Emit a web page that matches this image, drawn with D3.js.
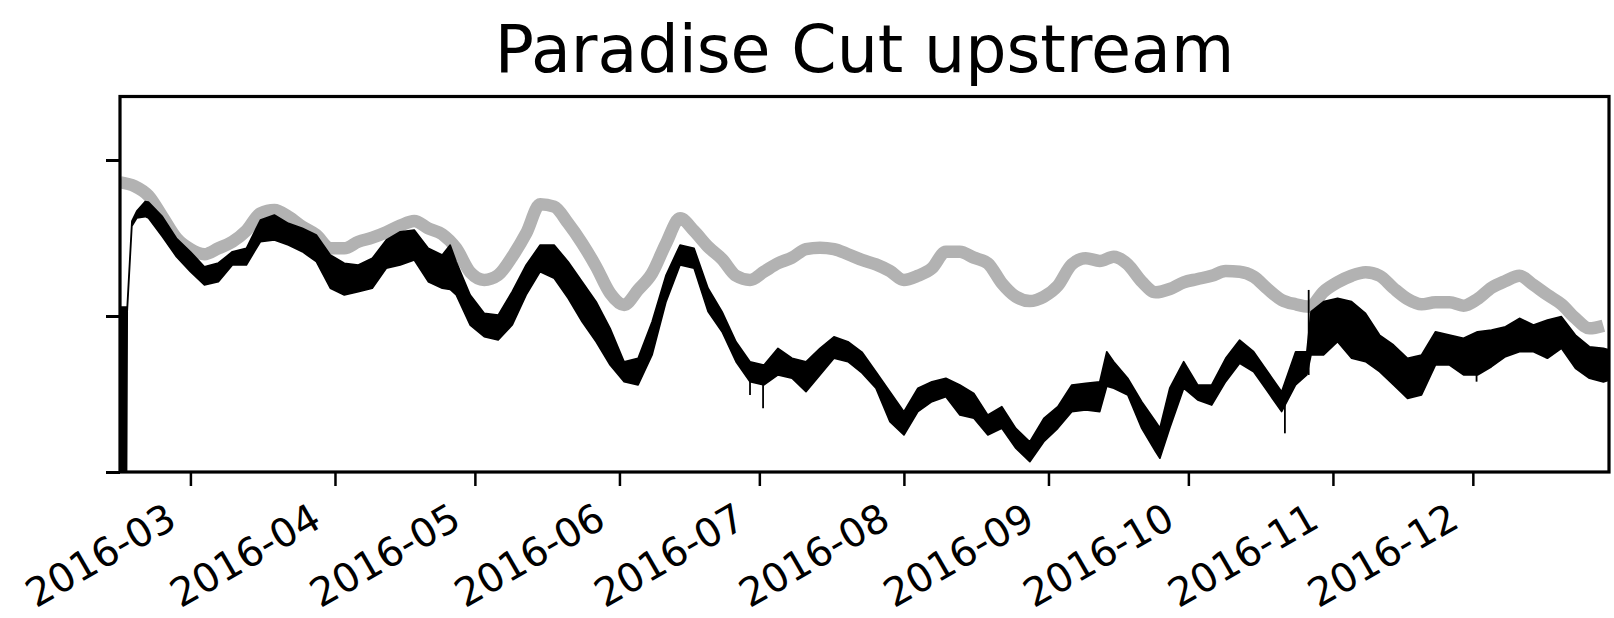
<!DOCTYPE html>
<html>
<head>
<meta charset="utf-8">
<script src="https://cdn.jsdelivr.net/npm/d3@7/dist/d3.min.js"></script>
<style>
  html, body { margin: 0; padding: 0; background: #ffffff; }
  svg { display: block; }
</style>
</head>
<body>
<div id="chart"></div>
<script>
// ---------------- DATA ----------------
const chartTitle = "Paradise Cut upstream";
const startDate = "2016-02-15";           // day 0 of the sample axis
const xDomainDays = [-0.1, 319.2];        // visible range, days from startDate
const yDomain = [0, 2.407];
const yTickValues = [0, 1, 2];            // ticks drawn without labels
const monthTicks = ["2016-03-01","2016-04-01","2016-05-01","2016-06-01","2016-07-01",
                    "2016-08-01","2016-09-01","2016-10-01","2016-11-01","2016-12-01"];

// grey (smooth) series, sampled every 3 days from startDate
const greyDays = d3.range(0, 319, 3);
const greyValues = [
 1.857,1.833,1.771,1.637,1.500,1.429,1.396,1.434,1.476,1.547,
 1.658,1.679,1.637,1.572,1.519,1.434,1.434,1.476,1.502,1.537,
 1.579,1.609,1.562,1.524,1.434,1.280,1.231,1.263,1.380,1.530,
 1.716,1.701,1.594,1.466,1.316,1.146,1.071,1.167,1.274,1.466,
 1.626,1.545,1.444,1.365,1.258,1.231,1.284,1.338,1.374,1.429,
 1.438,1.429,1.396,1.359,1.331,1.288,1.231,1.258,1.306,1.412,
 1.412,1.374,1.338,1.210,1.124,1.096,1.124,1.194,1.331,1.370,
 1.353,1.380,1.331,1.220,1.152,1.173,1.216,1.237,1.258,1.288,
 1.284,1.252,1.173,1.103,1.075,1.060,1.156,1.216,1.258,1.280,
 1.258,1.178,1.109,1.075,1.088,1.088,1.066,1.109,1.181,1.224,
 1.258,1.199,1.135,1.075,0.985,0.921,0.938
];

// black (noisy) series: envelope of the fluctuating record
const blackDays = [-0.1,1.3,1.45,2.45,3.5,5.3,6,9,12,15,18,21,24,27,30,33,36,39,42,45,48,51,54,57,60,63,66,69,70.7,72,
  75,78,81,84,87,90,93,96,99,102,105,108,111,114,117,120,123,126,129,132,135,138,141,144,147,150,153,156,159,162,
  165,168,171,174,177,180,183,186,189,192,195,198,201,204,207,210,211.5,213,216,219,222,222.9,225,228,231,234,237,240,243,246,
  249,252,254.4,255.3,258,261,264,267,270,273,276,279,282,285,288,291,294,297,300,303,306,309,312,315,318,319.3];
const blackHigh = [1.058,1.058,1.06,1.609,1.673,1.733,1.731,1.637,1.498,1.412,1.316,1.340,1.412,1.434,1.615,1.647,1.594,1.562,1.519,1.391,1.338,1.327,1.370,1.487,1.540,1.551,1.434,1.391,1.455,1.348,
  1.135,1.017,1.006,1.156,1.327,1.455,1.455,1.348,1.220,1.092,0.921,0.707,0.729,0.963,1.263,1.455,1.434,1.178,1.028,0.835,0.707,0.686,0.793,0.729,0.707,0.793,0.867,0.835,0.769,0.643,
  0.515,0.387,0.537,0.579,0.601,0.558,0.504,0.365,0.419,0.280,0.194,0.344,0.419,0.558,0.569,0.579,0.771,0.707,0.601,0.451,0.322,0.282,0.537,0.707,0.558,0.558,0.729,0.846,0.771,0.643,
  0.515,0.771,0.771,1.028,1.092,1.113,1.092,1.017,0.878,0.814,0.729,0.750,0.899,0.878,0.857,0.899,0.910,0.931,0.985,0.942,0.974,0.996,0.878,0.803,0.793,0.782];
const blackLow = [-0.1,-0.1,1.03,1.577,1.628,1.637,1.628,1.508,1.380,1.284,1.199,1.220,1.327,1.327,1.476,1.487,1.455,1.412,1.348,1.178,1.135,1.156,1.178,1.306,1.327,1.359,1.220,1.178,1.170,1.135,
  0.942,0.867,0.846,0.942,1.135,1.284,1.242,1.113,0.963,0.835,0.686,0.579,0.558,0.750,1.092,1.327,1.306,1.028,0.899,0.707,0.579,0.558,0.622,0.601,0.515,0.622,0.729,0.707,0.635,0.537,
  0.322,0.237,0.387,0.451,0.483,0.365,0.344,0.237,0.280,0.152,0.066,0.194,0.280,0.387,0.397,0.387,0.550,0.537,0.494,0.280,0.130,0.088,0.280,0.537,0.462,0.429,0.579,0.697,0.643,0.515,
  0.387,0.558,0.622,0.750,0.750,0.835,0.729,0.707,0.643,0.558,0.472,0.494,0.686,0.686,0.622,0.622,0.675,0.739,0.771,0.771,0.729,0.793,0.665,0.601,0.577,0.590];

// short excursions of the black record: [day, low, high]
const blackSpikes = [[135.0,0.494,0.65],[137.8,0.408,0.60],[249.7,0.248,0.45],[254.8,0.622,1.167],[290.8,0.579,0.75],[305.8,0.729,0.90]];

// ---------------- LAYOUT ----------------
const W = 1614, H = 618;
const m = {left: 120, right: 1609, top: 96.5, bottom: 472};
const FONT = "DejaVu Sans, sans-serif";

const day0 = new Date(startDate + "T00:00:00Z");
const toDate = d => new Date(day0.getTime() + d * 86400000);

const x = d3.scaleUtc().domain(xDomainDays.map(toDate)).range([m.left, m.right]);
const y = d3.scaleLinear().domain(yDomain).range([m.bottom, m.top]);

const svg = d3.select("#chart").append("svg").attr("width", W).attr("height", H)
  .style("font-family", FONT);
svg.append("rect").attr("width", W).attr("height", H).attr("fill", "#fff");

svg.append("defs").append("clipPath").attr("id", "plotclip")
  .append("rect").attr("x", m.left).attr("y", m.top)
  .attr("width", m.right - m.left).attr("height", m.bottom - m.top);

const plot = svg.append("g").attr("clip-path", "url(#plotclip)");

// grey series
const greyData = greyDays.map((d, i) => ({date: toDate(d), v: greyValues[i]}));
plot.append("path").datum(greyData)
  .attr("fill", "none").attr("stroke", "#b2b2b2").attr("stroke-width", 12.5)
  .attr("stroke-linejoin", "round")
  .attr("d", d3.line().curve(d3.curveMonotoneX).x(d => x(d.date)).y(d => y(d.v)));

// black series band
const blackData = blackDays.map((d, i) => ({date: toDate(d), hi: blackHigh[i], lo: blackLow[i]}));
plot.append("path").datum(blackData)
  .attr("fill", "#000").attr("stroke", "#000").attr("stroke-width", 1.6)
  .attr("stroke-linejoin", "round")
  .attr("d", d3.area().x(d => x(d.date)).y0(d => y(d.lo)).y1(d => y(d.hi)));

plot.selectAll("line.spike").data(blackSpikes).enter().append("line")
  .attr("class", "spike")
  .attr("x1", d => x(toDate(d[0]))).attr("x2", d => x(toDate(d[0])))
  .attr("y1", d => y(d[1])).attr("y2", d => y(d[2]))
  .attr("stroke", "#000").attr("stroke-width", 1.8);

// axes
const yAxis = d3.axisLeft(y).tickValues(yTickValues).tickSize(14).tickFormat("");
const gy = svg.append("g").attr("transform", `translate(${m.left},0)`).call(yAxis);
gy.select(".domain").remove();
gy.selectAll(".tick line").attr("stroke", "#000").attr("stroke-width", 3);

const tickDates = monthTicks.map(s => new Date(s + "T00:00:00Z"));
const xAxis = d3.axisBottom(x).tickValues(tickDates).tickSize(14).tickFormat("");
const gx = svg.append("g").attr("transform", `translate(0,${m.bottom})`).call(xAxis);
gx.select(".domain").remove();
gx.selectAll(".tick line").attr("stroke", "#000").attr("stroke-width", 2.5);

const fmt = d3.utcFormat("%Y-%m");
svg.append("g").selectAll("text").data(tickDates).enter().append("text")
  .attr("transform", d => `translate(${x(d) - 26},${m.bottom + 29}) rotate(-30)`)
  .attr("text-anchor", "end").attr("dy", "0.73em")
  .attr("font-size", 39.5).attr("fill", "#000")
  .text(d => fmt(d));

// spines
svg.append("rect").attr("x", m.left).attr("y", m.top)
  .attr("width", m.right - m.left).attr("height", m.bottom - m.top)
  .attr("fill", "none").attr("stroke", "#000").attr("stroke-width", 3.2);

// title
svg.append("text").attr("x", (m.left + m.right) / 2).attr("y", 72)
  .attr("text-anchor", "middle").attr("font-size", 65).attr("fill", "#000")
  .text(chartTitle);
</script>
</body>
</html>
